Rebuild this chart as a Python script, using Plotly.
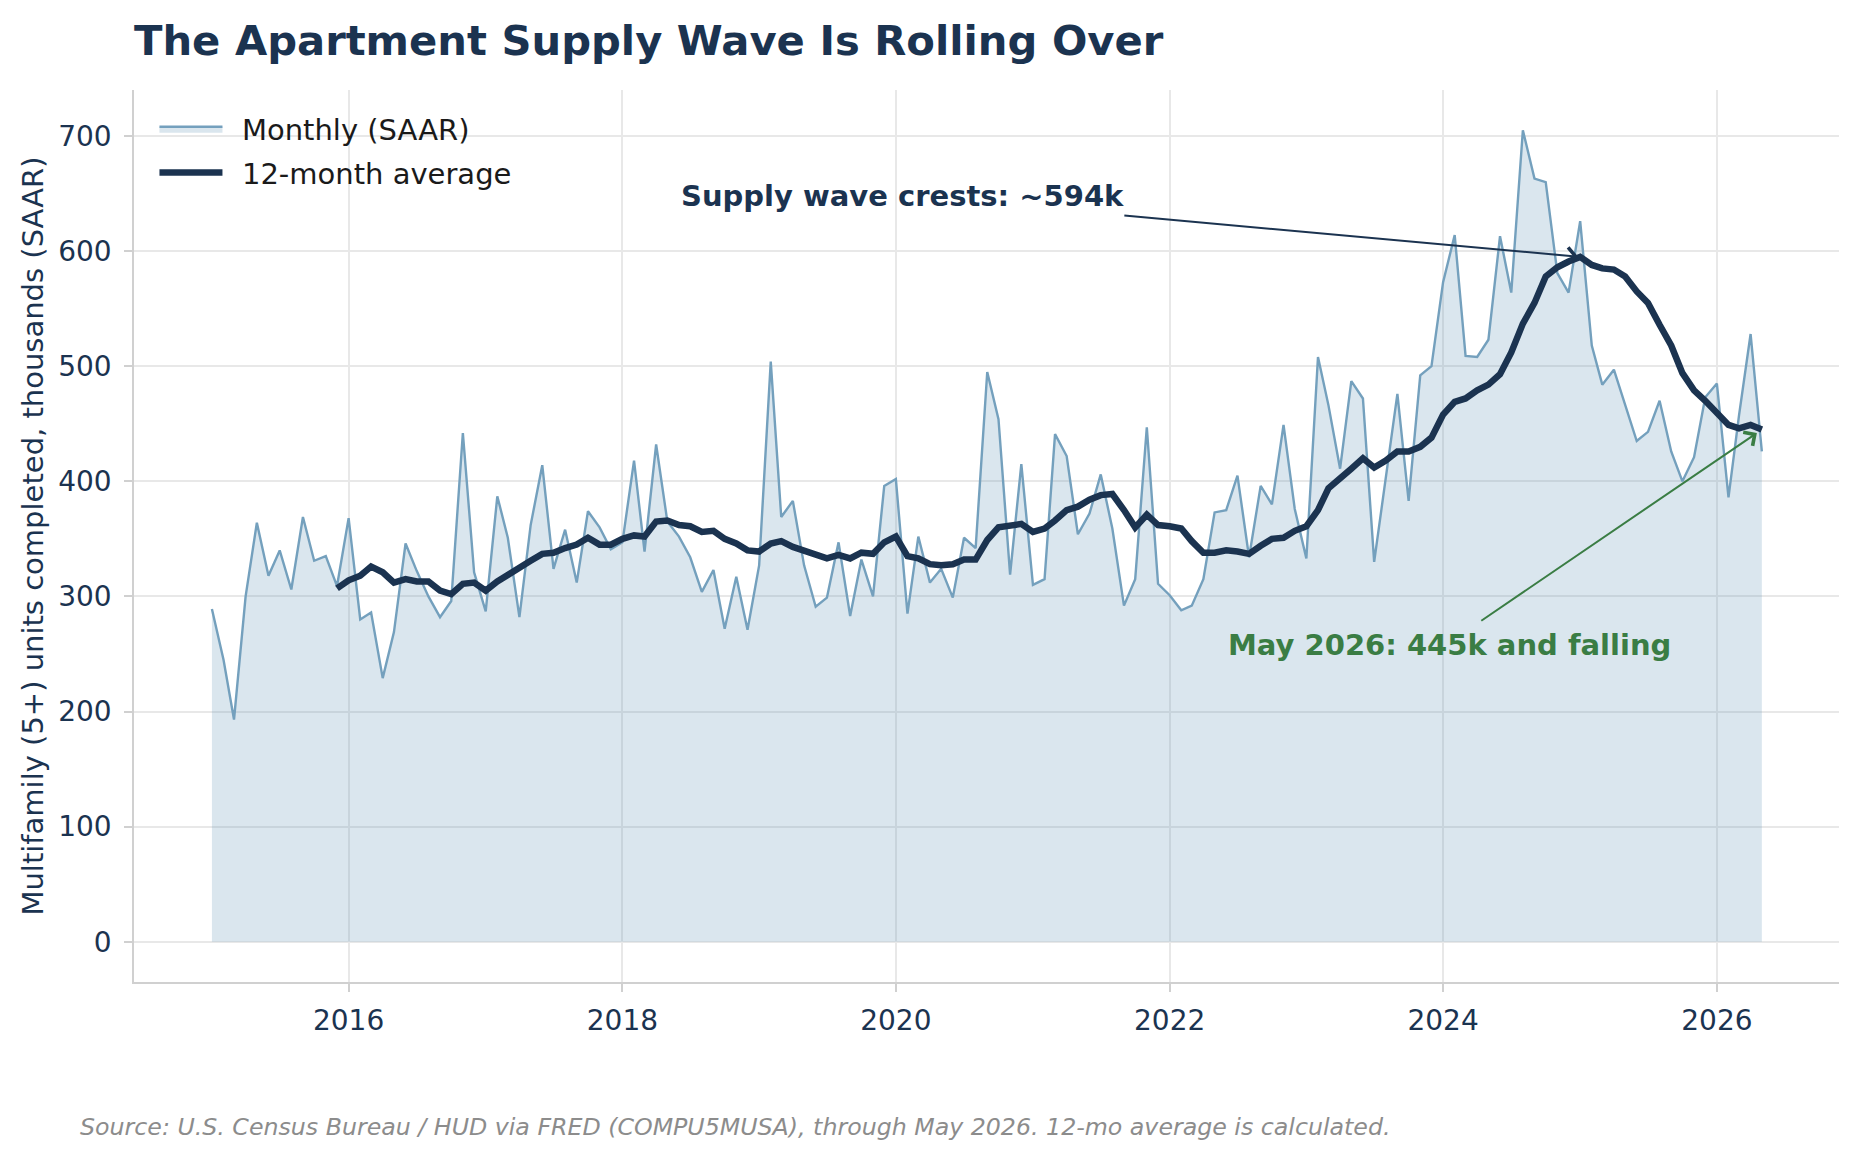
import pandas as pd
import plotly.graph_objects as go

# monthly completions, multifamily 5+ units, SAAR (thousands), Jan 2015 - May 2026
monthly = [
    289, 245, 193, 300, 364, 318, 340, 306, 369, 331, 335, 309,   # 2015
    368, 280, 286, 229, 269, 346, 322, 300, 282, 296, 442, 321,   # 2016
    287, 387, 351, 282, 362, 414, 324, 358, 312, 374, 360, 341,   # 2017
    347, 418, 339, 432, 365, 352, 334, 304, 323, 272, 317, 271,   # 2018
    327, 504, 369, 383, 327, 291, 299, 347, 283, 332, 300, 396,   # 2019
    402, 285, 352, 312, 324, 299, 351, 342, 495, 454, 319, 415,   # 2020
    310, 315, 441, 422, 354, 372, 406, 359, 292, 315, 447, 311,   # 2021
    301, 288, 292, 315, 373, 375, 405, 334, 396, 380, 449, 376,   # 2022
    333, 508, 466, 411, 487, 472, 330, 402, 476, 383, 492, 500,   # 2023
    573, 614, 509, 508, 523, 613, 564, 705, 663, 660, 581, 564,   # 2024
    626, 518, 484, 497, 466, 435, 443, 470, 426, 400, 421, 473,   # 2025
    485, 386, 457, 528, 426,                                      # 2026
]

# 12-month average as plotted (Dec 2015 - May 2026)
avg12 = [
    307,
    314, 318, 326, 321, 312, 315, 313, 313, 305, 302, 311, 312,
    305, 313, 319, 324, 331, 337, 338, 342, 345, 351, 345, 345,
    350, 353, 352, 365, 366, 362, 361, 356, 357, 350, 346, 340,
    339, 346, 348, 343, 340, 336, 333, 336, 333, 338, 337, 347,
    352, 335, 333, 328, 327, 328, 332, 332, 349, 360, 362, 363,
    356, 359, 366, 375, 378, 384, 388, 389, 375, 360, 371, 362,
    361, 359, 348, 338, 338, 340, 339, 337, 344, 350, 351, 357,
    361, 375, 394, 402, 411, 420, 412, 418, 426, 426, 430, 438,
    458, 469, 472, 479, 484, 493, 512, 537, 555, 578, 586, 591,
    595, 588, 585, 584, 578, 565, 555, 536, 518, 494, 479, 470,
    460, 449, 446, 449, 445,
]

months = pd.date_range("2015-01-01", periods=len(monthly), freq="MS")
avg_months = months[len(monthly) - len(avg12):]

navy = "#1b3350"
green = "#3a7d44"
font = "DejaVu Sans"

# page body has an 8px margin, so the figure is 16px smaller than the window
W, H = 1842, 1144
L, R, T, B = 126, 11, 82, 170

fig = go.Figure()
fig.add_trace(go.Scatter(
    x=months, y=monthly, name="\u2002Monthly (SAAR)", mode="lines",
    line=dict(color="#74a0bd", width=2.4),
    fill="tozeroy", fillcolor="rgba(96,146,182,0.23)",
    legendgroup="a",
))
fig.add_trace(go.Scatter(
    x=avg_months, y=avg12, name="\u200212-month average", mode="lines",
    line=dict(color=navy, width=6.5),
    legendgroup="b",
))

fig.update_layout(
    width=W, height=H,
    margin=dict(l=L, r=R, t=T, b=B),
    paper_bgcolor="white", plot_bgcolor="white",
    font=dict(family=font, color=navy),
    title=dict(
        text="<b>The Apartment Supply Wave Is Rolling Over</b>",
        font=dict(size=41.7, color=navy, family=font),
        x=L / W, xanchor="left", xref="container",
        y=1 - 32 / H, yanchor="middle",
    ),
    legend=dict(
        x=0.012, y=0.985, xanchor="left", yanchor="top",
        font=dict(size=29, color="#1a1a1a", family=font),
        bgcolor="rgba(255,255,255,0)", itemwidth=63,
        traceorder="grouped", tracegroupgap=3,
    ),
    showlegend=True,
)

fig.update_xaxes(
    type="date",
    range=["2014-06-07", "2026-11-23"],
    tick0="2016-01-01", dtick="M24", tickformat="%Y",
    showgrid=True, gridcolor="#e8e8e8", gridwidth=1.5,
    showline=True, linecolor="#d0d0d0", linewidth=1.5,
    ticks="outside", ticklen=8, tickcolor="#d0d0d0", tickwidth=1.5,
    ticklabelstandoff=5,
    tickfont=dict(size=28, color=navy, family=font),
    zeroline=False,
)
fig.update_yaxes(
    range=[-35, 740],
    tick0=0, dtick=100,
    showgrid=True, gridcolor="#e8e8e8", gridwidth=1.5,
    showline=True, linecolor="#d0d0d0", linewidth=1.5,
    ticks="outside", ticklen=8, tickcolor="#d0d0d0", tickwidth=1.5,
    ticklabelstandoff=7,
    tickfont=dict(size=28, color=navy, family=font),
    zeroline=False,
    title=dict(
        text="Multifamily (5+) units completed, thousands (SAAR)",
        font=dict(size=29, color=navy, family=font),
        standoff=6,
    ),
)

peak_i = avg12.index(max(avg12))
fig.add_annotation(
    x="2018-06-01", y=648, xref="x", yref="y",
    text="<b>Supply wave crests: ~594k</b>", showarrow=False,
    xanchor="left", yanchor="middle",
    font=dict(size=29, color=navy, family=font),
)
fig.add_annotation(
    x=avg_months[peak_i], y=avg12[peak_i], xref="x", yref="y",
    ax="2021-08-29", ay=631, axref="x", ayref="y",
    text="", showarrow=True, arrowhead=4, arrowsize=1.6,
    arrowwidth=2, arrowcolor=navy, standoff=2,
)
fig.add_annotation(
    x="2022-06-01", y=258, xref="x", yref="y",
    text="<b>May 2026: 445k and falling</b>", showarrow=False,
    xanchor="left", yanchor="middle",
    font=dict(size=29, color=green, family=font),
)
fig.add_annotation(
    x=avg_months[-1], y=avg12[-1], xref="x", yref="y",
    ax="2024-04-08", ay=278, axref="x", ayref="y",
    text="", showarrow=True, arrowhead=4, arrowsize=1.6,
    arrowwidth=2, arrowcolor=green, standoff=6,
)
fig.add_annotation(
    x=(70 - L) / (W - L - R), y=(974 - 1119) / (H - T - B),
    xref="paper", yref="paper",
    text="<i>Source: U.S. Census Bureau / HUD via FRED (COMPU5MUSA), through May 2026. "
         "12-mo average is calculated.</i>",
    showarrow=False, xanchor="left", yanchor="middle",
    font=dict(size=23.7, color="#8c8c8c", family=font),
)

fig.write_html("out.html")
